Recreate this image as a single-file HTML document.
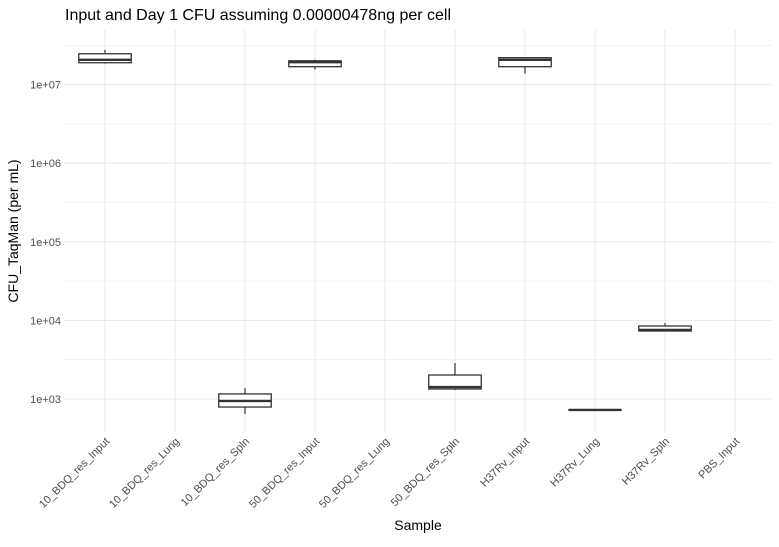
<!DOCTYPE html>
<html><head><meta charset="utf-8"><style>
body{margin:0;background:#fff;font-family:"Liberation Sans",sans-serif}
svg text{font-family:"Liberation Sans",sans-serif}
</style></head><body>
<svg id="chart" width="779" height="542" xmlns="http://www.w3.org/2000/svg">
<text x="65" y="20" font-size="16" fill="#000">Input and Day 1 CFU assuming 0.00000478ng per cell</text>
<g id="grid"></g><g id="boxes"></g><g id="labels"></g>
<text x="418" y="530" font-size="14" text-anchor="middle" fill="#000">Sample</text>
<text transform="translate(18,231) rotate(-90)" font-size="14" text-anchor="middle" fill="#000">CFU_TaqMan (per mL)</text>
</svg>
<script>
const categories=["10_BDQ_res_Input","10_BDQ_res_Lung","10_BDQ_res_Spln","50_BDQ_res_Input","50_BDQ_res_Lung","50_BDQ_res_Spln","H37Rv_Input","H37Rv_Lung","H37Rv_Spln","PBS_Input"];
const mins=[1.85e7,null,645,1.55e7,null,1300,1.38e7,725,7330,null];
const q1s=[1.9e7,null,790,1.69e7,null,1340,1.69e7,725,7330,null];
const medians=[2.07e7,null,944,1.93e7,null,1420,2.07e7,725,7550,null];
const q3s=[2.47e7,null,1160,2.01e7,null,2020,2.2e7,725,8490,null];
const maxs=[2.77e7,null,1380,2.07e7,null,2870,2.2e7,725,9270,null];
const yTicks=[1e3,1e4,1e5,1e6,1e7];
const yTickLabels=["1e+03","1e+04","1e+05","1e+06","1e+07"];
const NS="http://www.w3.org/2000/svg";
const L=70,R=770,T=30,B=432,LMIN=2.58,LMAX=7.695,GL=64,GR=772;
const step=(R-L)/categories.length;
const xS=i=>L+step*(i+0.5);
const yS=v=>B-(Math.log10(v)-LMIN)/(LMAX-LMIN)*(B-T);
function mk(tag,attrs,parent){const e=document.createElementNS(NS,tag);for(const k in attrs)e.setAttribute(k,attrs[k]);parent.appendChild(e);return e;}
const grid=document.getElementById('grid'),boxes=document.getElementById('boxes'),labels=document.getElementById('labels');
for(let p=3;p<=7.5;p+=0.5){const y=yS(Math.pow(10,p));if(y<T||y>B)continue;
 const ln=mk('line',{x1:GL,x2:GR,y1:y,y2:y,stroke:'#ebebeb','stroke-width':Number.isInteger(p)?1.1:0.6},grid);
 
 }
categories.forEach((c,i)=>{const x=xS(i);
 const ln=mk('line',{x1:x,x2:x,y1:T,y2:B,stroke:'#ebebeb','stroke-width':1.1},grid);
 
 
 const t=mk('text',{transform:`translate(${x+5},${B+10}) rotate(-45)`,'text-anchor':'end','font-size':11,fill:'#4d4d4d'},labels);
 t.textContent=c;
 
 
 if(medians[i]==null)return;
 const g=mk('g',{},boxes);
 
 
 const w=step*0.75;
 mk('line',{x1:x,x2:x,y1:yS(maxs[i]),y2:yS(q3s[i]),stroke:'#333','stroke-width':1.2},g);
 mk('line',{x1:x,x2:x,y1:yS(q1s[i]),y2:yS(mins[i]),stroke:'#333','stroke-width':1.2},g);
 mk('rect',{x:x-w/2,y:yS(q3s[i]),width:w,height:Math.max(0.01,yS(q1s[i])-yS(q3s[i])),fill:'#fff',stroke:'#333','stroke-width':1.3},g);
 mk('line',{x1:x-w/2,x2:x+w/2,y1:yS(medians[i]),y2:yS(medians[i]),stroke:'#333','stroke-width':2.4},g);
});
yTicks.forEach((v,i)=>{const t=mk('text',{x:GL-3,y:yS(v)+4,'text-anchor':'end','font-size':11,fill:'#4d4d4d'},labels);
 t.textContent=yTickLabels[i];
 
 });
</script>
</body></html>
